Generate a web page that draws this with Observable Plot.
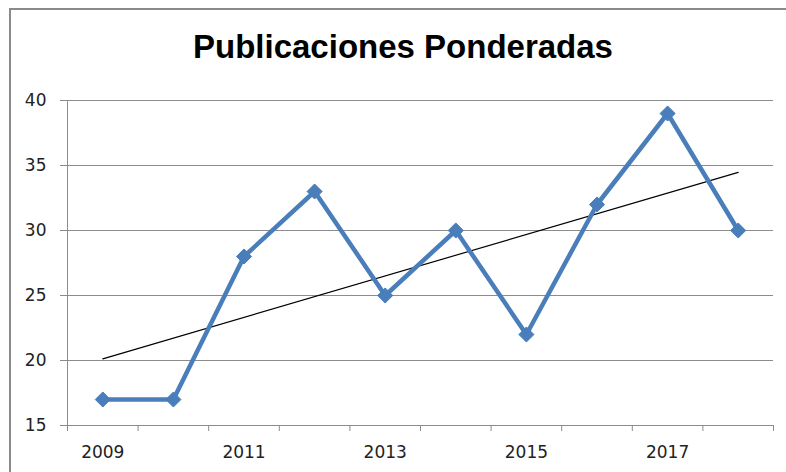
<!DOCTYPE html>
<html>
<head>
<meta charset="utf-8">
<script src="https://cdn.jsdelivr.net/npm/d3@7"></script>
<script src="https://cdn.jsdelivr.net/npm/@observablehq/plot@0.6"></script>
<style>
  html, body { margin: 0; padding: 0; background: #fff; }
  #wrap { position: relative; width: 786px; height: 472px; overflow: hidden; }
  #border { position: absolute; left: 9px; top: 8px; width: 820px; height: 500px; border: 2px solid #8a8a8a; box-sizing: border-box; }
  #title { position: absolute; left: 0; width: 806px; top: 28px; text-align: center;
           font-family: "Liberation Sans", Arial, sans-serif; font-weight: bold; font-size: 33px; color: #000; }
  #chart { position: absolute; left: 0; top: 0; }
</style>
</head>
<body>
<div id="wrap">
  <div id="border"></div>
  <div id="chart"></div>
  <div id="title">Publicaciones Ponderadas</div>
</div>
<script>
const title = "Publicaciones Ponderadas";
const years = [2009, 2010, 2011, 2012, 2013, 2014, 2015, 2016, 2017, 2018];
const values = [17, 17, 28, 33, 25, 30, 22, 32, 39, 30];
const labelYears = [2009, 2011, 2013, 2015, 2017];
const yTicks = [15, 20, 25, 30, 35, 40];

const data = years.map((year, i) => ({year, value: values[i]}));
const xDomain = [d3.min(years) - 0.5, d3.max(years) + 0.5];
const boundaries = years.map(y => y - 0.5).concat([d3.max(years) + 0.5]);
const blue = "#4a7ebb";
const gray = "#8c8c8c";

const chart = Plot.plot({
  width: 786,
  height: 472,
  marginLeft: 67,
  marginRight: 13,
  marginTop: 100,
  marginBottom: 47,
  style: {fontFamily: "DejaVu Sans", fontSize: "17px", color: "#222", background: "transparent"},
  x: {type: "linear", domain: xDomain},
  y: {domain: [15, 40]},
  marks: [
    Plot.gridY(yTicks, {stroke: gray, strokeOpacity: 1}),
    Plot.ruleX([xDomain[0]], {stroke: gray}),
    Plot.axisY({ticks: yTicks, tickSize: 7, tickPadding: 14, label: null, stroke: gray, fontSize: 17}),
    Plot.axisX({ticks: boundaries, tickSize: 6, tickFormat: () => "", label: null, stroke: gray}),
    Plot.axisX({ticks: labelYears, tickSize: 0, tickPadding: 20, tickFormat: d => String(d), label: null, fontSize: 17}),
    Plot.linearRegressionY(data, {x: "year", y: "value", stroke: "#000", strokeWidth: 1.2, ci: 0}),
    Plot.line(data, {x: "year", y: "value", stroke: blue, strokeWidth: 4.5}),
    Plot.dot(data, {x: "year", y: "value", symbol: "diamond2", r: 6.8, fill: blue, stroke: blue, strokeWidth: 1})
  ]
});
document.getElementById("chart").appendChild(chart);
</script>
</body>
</html>
